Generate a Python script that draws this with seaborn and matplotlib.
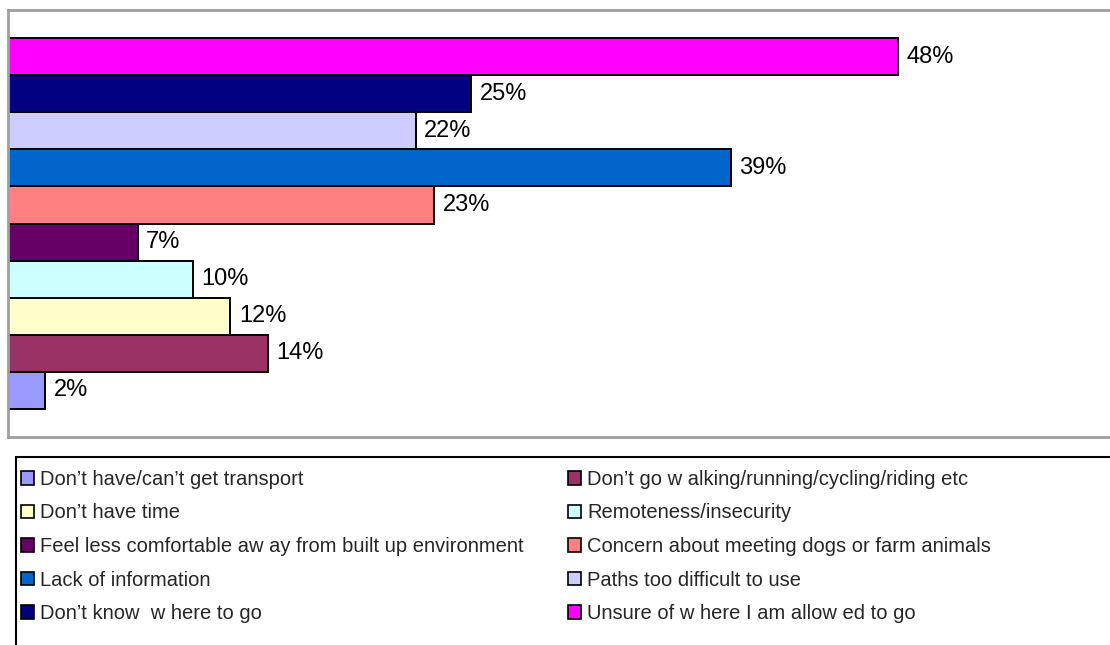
import matplotlib
matplotlib.use("Agg")
import matplotlib.pyplot as plt
from matplotlib.patches import Patch, Rectangle
import seaborn as sns
import pandas as pd

# Data (bottom-to-top order as drawn in the reference)
categories = [
    "Don’t have/can’t get transport",
    "Don’t go w alking/running/cycling/riding etc",
    "Don’t have time",
    "Remoteness/insecurity",
    "Feel less comfortable aw ay from built up environment",
    "Concern about meeting dogs or farm animals",
    "Lack of information",
    "Paths too difficult to use",
    "Don’t know  w here to go",
    "Unsure of w here I am allow ed to go",
]
values = [2, 14, 12, 10, 7, 23, 39, 22, 25, 48]
colors = ["#9999FF", "#993366", "#FFFFCC", "#CCFFFF", "#660066",
          "#FF8080", "#0066CC", "#CCCCFF", "#000080", "#FF00FF"]

sns.set_theme(style="white")
plt.rcParams["font.family"] = ["Liberation Sans", "DejaVu Sans"]

W, H = 1110, 645
fig = plt.figure(figsize=(W / 100, H / 100), dpi=100)
ax = fig.add_axes([8 / W, (H - 437) / H, (1124 - 8) / W, 427 / H])

df = pd.DataFrame({"cat": categories, "val": values})
order = categories[::-1]  # top to bottom
palette = dict(zip(categories, colors))
sns.barplot(data=df, x="val", y="cat", hue="cat", order=order, hue_order=categories,
            palette=palette, orient="h", width=1.0, dodge=False, legend=False,
            edgecolor="black", linewidth=1.4, saturation=1, ax=ax)

for cont in ax.containers:
    labs = [f"{int(round(b.get_width()))}%" for b in cont]
    ax.bar_label(cont, labels=labs, padding=6, fontsize=17, color="black")

ax.set_xlim(0, 60.2)
ax.set_ylim(10.27, -1.27)
ax.set_xlabel("")
ax.set_ylabel("")
ax.set_xticks([])
ax.set_yticks([])
for s in ax.spines.values():
    s.set_color("#A0A0A0")
    s.set_linewidth(2)

# Legend box
fig.patches.append(Rectangle((16 / W, -0.1), 1.2, (H - 457) / H + 0.1,
                             transform=fig.transFigure, fill=False,
                             edgecolor="black", linewidth=1.5, zorder=0))

handles = [Patch(facecolor=c, edgecolor="black", linewidth=1.2) for c in colors]
# matplotlib fills columns first; reorder so the rows read pairwise
idx = [0, 2, 4, 6, 8, 1, 3, 5, 7, 9]
leg = fig.legend([handles[i] for i in idx], [categories[i] for i in idx],
                 ncol=2, loc="upper left",
                 bbox_to_anchor=(21 / W, (H - 470) / H),
                 frameon=False, fontsize=14.5, handlelength=0.65, handleheight=0.65,
                 handletextpad=0.3, columnspacing=2.2, labelspacing=0.72,
                 borderaxespad=0, borderpad=0)

fig.savefig("out.png", dpi=100)
